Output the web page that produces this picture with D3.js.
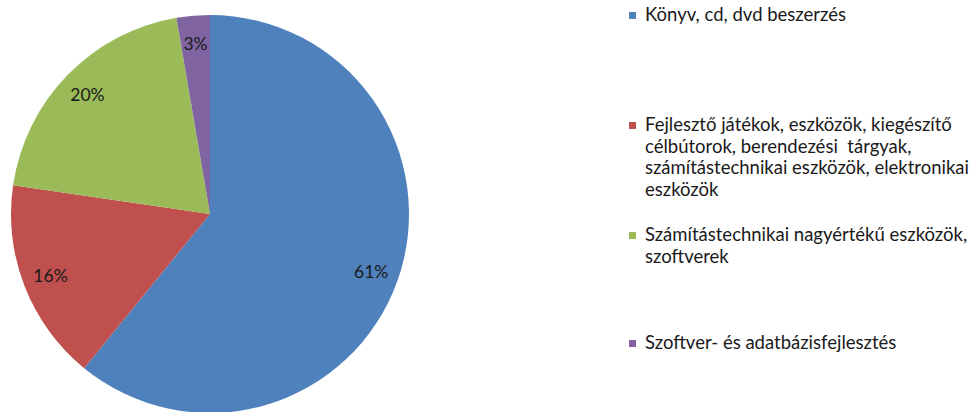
<!DOCTYPE html>
<html lang="hu">
<head>
    <meta charset="UTF-8">
    <title>Beszerzések megoszlása</title>
    <script src="https://d3js.org/d3.v7.min.js"></script>
    <style>
        body { margin: 0; background: #fff; font-family: Lato, "Open Sans", sans-serif; }
        .label { font-size: 17.5px; fill: #1a1a1a; }
        .legend text { font-size: 18.5px; fill: #1a1a1a; }
    </style>
</head>
<body>
    <svg width="977" height="412"></svg>
    <script>
        // adatok
        const kategoriak = [
            "Könyv, cd, dvd beszerzés",
            "Fejlesztő játékok, eszközök, kiegészítő célbútorok, berendezési tárgyak, számítástechnikai eszközök, elektronikai eszközök",
            "Számítástechnikai nagyértékű eszközök, szoftverek",
            "Szoftver- és adatbázisfejlesztés"
        ];
        const ertekek = [60.9, 16.4, 20.0, 2.7];
        const szinek = ["#4F81BD", "#C0504D", "#9BBB59", "#8064A2"];
        // jelmagyarázat sorai (tördelés az eredeti szerint)
        const legendSorok = [
            ["Könyv, cd, dvd beszerzés"],
            ["Fejlesztő játékok, eszközök, kiegészítő", "célbútorok, berendezési\u00a0 tárgyak,", "számítástechnikai eszközök, elektronikai", "eszközök"],
            ["Számítástechnikai nagyértékű eszközök,", "szoftverek"],
            ["Szoftver- és adatbázisfejlesztés"]
        ];
        const legendY = [15, 125, 235, 343];

        const svg = d3.select("svg");
        const cx = 210, cy = 214, r = 199;
        const total = d3.sum(ertekek);

        const pie = d3.pie().sort(null).value(d => d);
        const arcs = pie(ertekek);
        const arc = d3.arc().innerRadius(0).outerRadius(r);
        const labelArc = d3.arc().innerRadius(r * 0.86).outerRadius(r * 0.86);

        const g = svg.append("g").attr("transform", `translate(${cx},${cy})`);

        g.selectAll("path")
            .data(arcs)
            .enter().append("path")
            .attr("d", arc)
            .attr("fill", (d, i) => szinek[i]);

        g.selectAll(".label")
            .data(arcs)
            .enter().append("text")
            .attr("class", "label")
            .attr("transform", d => `translate(${labelArc.centroid(d)})`)
            .attr("text-anchor", "middle")
            .attr("dominant-baseline", "central")
            .text(d => Math.round(d.data / total * 100) + "%");

        const legend = svg.append("g").attr("class", "legend");
        const item = legend.selectAll("g")
            .data(kategoriak)
            .enter().append("g")
            .attr("transform", (d, i) => `translate(629,${legendY[i]})`);

        item.append("rect")
            .attr("x", 0).attr("y", -3)
            .attr("width", 7).attr("height", 7)
            .attr("fill", (d, i) => szinek[i]);

        item.append("text")
            .attr("x", 16)
            .selectAll("tspan")
            .data((d, i) => legendSorok[i])
            .enter().append("tspan")
            .attr("x", 16)
            .attr("y", (d, j) => j * 21.5)
            .attr("dy", "0.35em")
            .text(d => d);
    </script>
</body>
</html>
